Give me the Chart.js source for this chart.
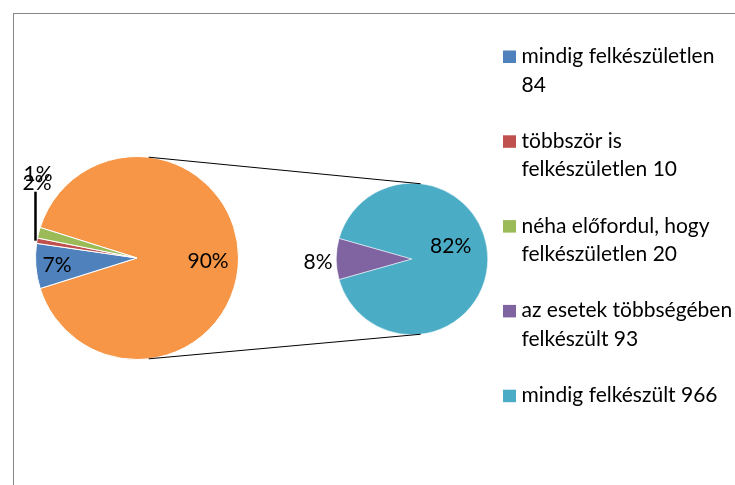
<!DOCTYPE html>
<html lang="hu">
<head>
<meta charset="UTF-8">
<title>Felkészültség</title>
<script src="https://cdn.jsdelivr.net/npm/chart.js"></script>
<style>
    body { margin: 0; background: #fff; }
    #wrap { position: relative; width: 735px; height: 485px; overflow: hidden; }
    #frame { position: absolute; left: 13px; top: 13px; width: 900px; height: 700px;
             border-left: 1px solid #868686; border-top: 1px solid #868686; }
    canvas { position: absolute; left: 0; top: 0; }
</style>
</head>
<body>
<div id="wrap">
    <div id="frame"></div>
    <canvas id="mainPie" width="735" height="485"></canvas>
    <canvas id="subPie" width="735" height="485"></canvas>
</div>
<script>
const categories = ['mindig felkészületlen', 'többször is felkészületlen', 'néha előfordul, hogy felkészületlen',
                    'az esetek többségében felkészült', 'mindig felkészült'];
const values = [84, 10, 20, 93, 966];
const colors = ['#4F81BD', '#C0504D', '#9BBB59', '#8064A2', '#4BACC6'];
const otherColor = '#F79646';
const splitAt = 3; // the last two categories go into the second pie

const FONT = 'Lato, "Open Sans", sans-serif';
const total = values.reduce((a, b) => a + b, 0);
const mainValues = values.slice(0, splitAt);
const subValues = values.slice(splitAt);
const otherValue = subValues.reduce((a, b) => a + b, 0);
const pct = v => Math.round(v / total * 100) + '%';

// "other" slice centred on 3 o'clock, the small slices on the left
const otherShare = otherValue / total;
const subShare0 = subValues[0] / otherValue;

function arcPoint(arc, deg, f) {
    const a = deg * Math.PI / 180;
    return { x: arc.x + Math.cos(a) * arc.outerRadius * f, y: arc.y + Math.sin(a) * arc.outerRadius * f };
}
function midPoint(arc, f) {
    const a = (arc.startAngle + arc.endAngle) / 2;
    return { x: arc.x + Math.cos(a) * arc.outerRadius * f, y: arc.y + Math.sin(a) * arc.outerRadius * f };
}
function text(ctx, s, x, y) {
    ctx.save();
    ctx.font = '21px ' + FONT;
    ctx.fillStyle = '#000';
    ctx.textAlign = 'center';
    ctx.textBaseline = 'middle';
    ctx.fillText(s, x, y);
    ctx.restore();
}

const mainLabels = {
    id: 'mainLabels',
    afterDraw(chart) {
        const ctx = chart.ctx;
        const arcs = chart.getDatasetMeta(0).data;
        const vals = chart.data.datasets[0].data;
        // other slice
        let p = midPoint(arcs[0], 0.7);
        text(ctx, pct(vals[0]), p.x, p.y + 3);
        // biggest small slice inside
        p = midPoint(arcs[1], 0.79);
        text(ctx, pct(vals[1]), p.x, p.y + 1);
        // tiny slices with a leader line
        const edge = midPoint(arcs[2], 1);
        ctx.save();
        ctx.strokeStyle = '#000';
        ctx.lineWidth = 2.5;
        ctx.beginPath();
        ctx.moveTo(edge.x - 1.5, edge.y);
        ctx.lineTo(edge.x - 1.5, edge.y - 49);
        ctx.stroke();
        ctx.restore();
        text(ctx, pct(vals[2]), edge.x + 1, edge.y - 66.5);
        text(ctx, pct(vals[3]), edge.x, edge.y - 57);
    }
};

const subExtras = {
    id: 'subExtras',
    afterDraw(chart) {
        const ctx = chart.ctx;
        const arcs = chart.getDatasetMeta(0).data;
        const vals = chart.data.datasets[0].data;
        let p = midPoint(arcs[0], 1.24);
        text(ctx, pct(vals[0]), p.x, p.y + 3);
        p = midPoint(arcs[1], 0.51);
        text(ctx, pct(vals[1]), p.x, p.y - 12.6);

        // connector lines between the two pies
        const big = mainChart.getDatasetMeta(0).data[0];
        const small = arcs[0];
        ctx.save();
        ctx.strokeStyle = '#000';
        ctx.lineWidth = 1;
        [-83.4, 83.4].forEach(deg => {
            const a = arcPoint(big, deg, 1), b = arcPoint(small, deg, 1);
            ctx.beginPath();
            ctx.moveTo(a.x, a.y);
            ctx.lineTo(b.x, b.y);
            ctx.stroke();
        });
        ctx.restore();

        // legend
        ctx.save();
        ctx.font = '21px ' + FONT;
        ctx.fillStyle = '#000';
        ctx.textBaseline = 'alphabetic';
        const maxW = 213;
        categories.forEach((c, i) => {
            const base = 63 + i * 84.8;
            const words = (c + ' ' + values[i]).split(' ');
            const lines = [];
            let cur = '';
            words.forEach(w => {
                const t = cur ? cur + ' ' + w : w;
                if (cur && ctx.measureText(t).width > maxW) { lines.push(cur); cur = w; }
                else cur = t;
            });
            lines.push(cur);
            ctx.fillStyle = colors[i];
            ctx.fillRect(503, base - 12.5, 13, 12.5);
            ctx.fillStyle = '#000';
            lines.forEach((l, j) => ctx.fillText(l, 521.5, base + j * 28.6));
        });
        ctx.restore();
    }
};

const baseOptions = {
    responsive: false,
    animation: false,
    events: [],
    plugins: { legend: { display: false }, tooltip: { enabled: false } }
};

const mainChart = new Chart(document.getElementById('mainPie'), {
    type: 'pie',
    data: {
        labels: ['Egyéb'].concat(categories.slice(0, splitAt)),
        datasets: [{
            data: [otherValue].concat(mainValues),
            backgroundColor: [otherColor].concat(colors.slice(0, splitAt)),
            borderColor: '#fff',
            borderWidth: 1
        }]
    },
    options: Object.assign({}, baseOptions, {
        rotation: 90 - otherShare * 180,
        layout: { padding: { left: 35, top: 156, right: 496, bottom: 125 } }
    }),
    plugins: [mainLabels]
});

const subChart = new Chart(document.getElementById('subPie'), {
    type: 'pie',
    data: {
        labels: categories.slice(splitAt),
        datasets: [{
            data: subValues,
            backgroundColor: colors.slice(splitAt),
            borderColor: '#fff',
            borderWidth: 0.5
        }]
    },
    options: Object.assign({}, baseOptions, {
        rotation: 270 - subShare0 * 180,
        layout: { padding: { left: 336, top: 183, right: 247, bottom: 150 } }
    }),
    plugins: [subExtras]
});
</script>
</body>
</html>
